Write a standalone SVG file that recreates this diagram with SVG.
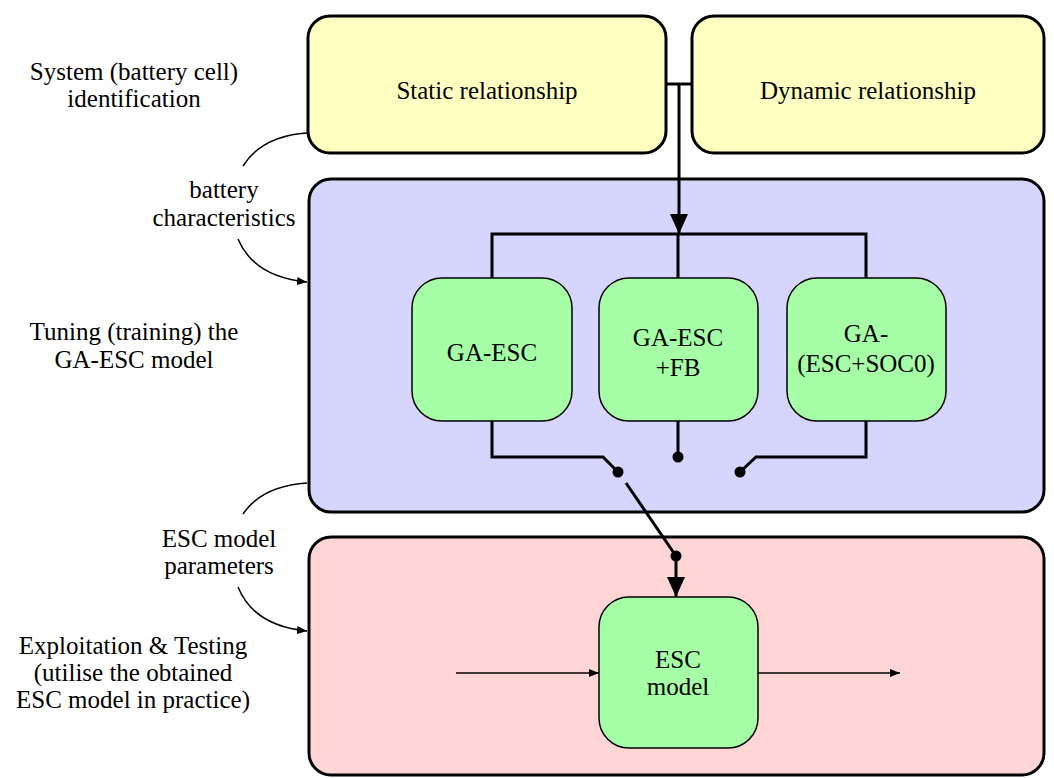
<svg xmlns="http://www.w3.org/2000/svg" width="1054" height="778" viewBox="0 0 1054 778">
<defs>
<marker id="big" markerUnits="userSpaceOnUse" markerWidth="20" markerHeight="20" viewBox="0 0 20 18" refX="20" refY="9" orient="auto"><path d="M0,0 L20,9 L0,18 Z" fill="#000"/></marker>
<marker id="small" markerUnits="userSpaceOnUse" markerWidth="10" markerHeight="10" viewBox="0 0 10 8" refX="10" refY="4" orient="auto"><path d="M0,0 L10,4 L0,8 Z" fill="#000"/></marker>
</defs>
<rect width="1054" height="778" fill="#fff"/>
<g stroke="#000" stroke-width="3">
<g id="stage-identification" fill="#FFFFC2">
<rect x="308" y="16" width="358" height="137" rx="22"/>
<rect x="692" y="16" width="352" height="137" rx="22"/>
</g>
<g id="stage-tuning"><rect fill="#D5D5FD" x="309" y="179" width="735" height="333" rx="22"/></g>
<g id="stage-testing"><rect fill="#FFD5D5" x="309" y="537" width="735" height="238" rx="22"/></g>
</g>
<g fill="#A6FFA6" stroke="#000" stroke-width="1.5">
<g id="node-ga-esc"><rect x="412" y="278" width="160" height="143" rx="30"/></g>
<g id="node-ga-esc-fb"><rect x="599" y="278" width="159" height="143" rx="30"/></g>
<g id="node-ga-esc-soc0"><rect x="787" y="278" width="159" height="143" rx="30"/></g>
<g id="node-esc-model"><rect x="599" y="597" width="159" height="151" rx="30"/></g>
</g>
<g font-family="Liberation Serif" font-size="25" fill="#000" text-anchor="middle">
<g id="node-static"><text x="487" y="99">Static relationship</text></g>
<g id="node-dynamic"><text x="868" y="99">Dynamic relationship</text></g>
<g id="label-ga-esc"><text x="492" y="361">GA-ESC</text></g>
<g id="label-ga-esc-fb"><text x="678" y="346">GA-ESC</text><text x="678" y="376">+FB</text></g>
<g id="label-ga-esc-soc0"><text x="866" y="342">GA-</text><text x="866" y="372">(ESC+SOC0)</text></g>
<g id="label-esc-model"><text x="678" y="668">ESC</text><text x="678" y="695">model</text></g>
<g id="labels">
<text x="134" y="80">System (battery cell)</text>
<text x="134" y="107">identification</text>
<text x="224" y="198">battery</text>
<text x="224" y="226">characteristics</text>
<text x="134" y="340">Tuning (training) the</text>
<text x="134" y="368">GA-ESC model</text>
<text x="219" y="547">ESC model</text>
<text x="219" y="574">parameters</text>
<text x="133" y="654">Exploitation &amp; Testing</text>
<text x="133" y="681">(utilise the obtained</text>
<text x="133" y="708">ESC model in practice)</text>
</g>
</g>
<g id="connectors" fill="none" stroke="#000">
<g stroke-width="3">
<path d="M666,84 H692"/>
<path d="M679,84 V234" marker-end="url(#big)"/>
<path d="M492,278 V234 H866 V278 M678,234 V278"/>
<path d="M492,421 V457 H603 L618,472"/>
<path d="M678,421 V457"/>
<path d="M866,421 V457 H756 L740,472"/>
<path d="M626,483 L676,556"/>
<path d="M676,556 V597" marker-end="url(#big)"/>
</g>
<g fill="#000" stroke="none">
<circle cx="618" cy="472" r="5.5"/>
<circle cx="678" cy="457" r="5.5"/>
<circle cx="740" cy="472" r="5.5"/>
<circle cx="676" cy="556" r="5.5"/>
</g>
<g stroke-width="1.5">
<path d="M456,673 H599" marker-end="url(#small)"/>
<path d="M758,673 H900" marker-end="url(#small)"/>
<path d="M307,133 Q262,136 243,166"/>
<path d="M238,239 Q254,277 307,282" marker-end="url(#small)"/>
<path d="M307,483 Q262,486 243,514"/>
<path d="M238,587 Q254,626 307,631" marker-end="url(#small)"/>
</g>
</g>
</svg>
